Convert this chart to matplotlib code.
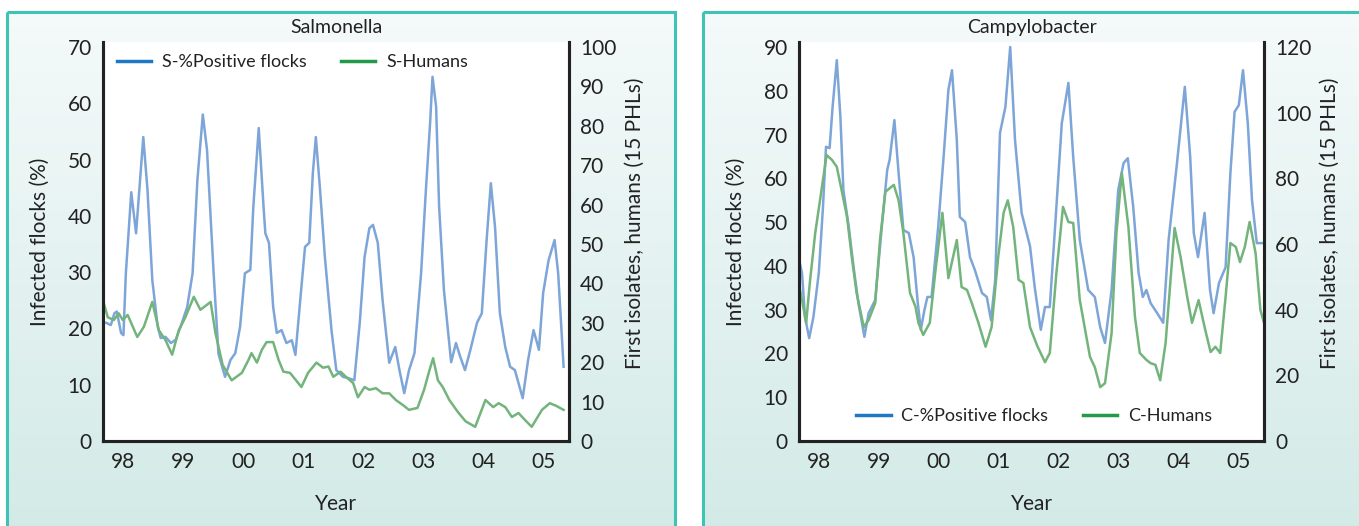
import numpy as np
import matplotlib
matplotlib.use('Agg')
import matplotlib.pyplot as plt
from matplotlib.patches import Rectangle
from matplotlib.lines import Line2D

plt.rcParams['font.family'] = ['Lato', 'DejaVu Sans']

# time axis: years as 98 .. 105 (100 = 2000)
year_ticks = [98, 99, 100, 101, 102, 103, 104, 105]
year_labels = ['98', '99', '00', '01', '02', '03', '04', '05']

# Salmonella - % positive flocks (left axis)
s_flock_t = [97.72, 97.80, 97.86, 97.90, 97.97, 98.01, 98.05, 98.14, 98.22, 98.34,
             98.41, 98.49, 98.58, 98.63, 98.71, 98.80, 98.88, 98.96, 99.07, 99.16,
             99.24, 99.33, 99.40, 99.51, 99.59, 99.70, 99.79, 99.87, 99.95, 100.03,
             100.12, 100.17, 100.26, 100.34, 100.37, 100.43, 100.50, 100.56, 100.64, 100.72,
             100.81, 100.87, 100.95, 101.03, 101.10, 101.16, 101.21, 101.28, 101.36, 101.47,
             101.55, 101.66, 101.74, 101.85, 101.94, 102.02, 102.10, 102.16, 102.24, 102.32,
             102.43, 102.53, 102.60, 102.68, 102.76, 102.85, 102.96, 103.04, 103.11, 103.15,
             103.21, 103.26, 103.34, 103.46, 103.54, 103.61, 103.69, 103.78, 103.89, 103.97,
             104.05, 104.12, 104.19, 104.27, 104.36, 104.44, 104.52, 104.65, 104.74, 104.83,
             104.92, 104.99, 105.08, 105.18, 105.24, 105.33]
s_flock_v = [21.0, 20.6, 22.7, 23.0, 19.2, 18.8, 29.8, 44.2, 36.9, 54.0,
             44.6, 28.6, 20.3, 18.3, 18.5, 17.4, 18.0, 20.3, 23.8, 29.8,
             46.4, 58.0, 51.7, 29.8, 15.5, 11.4, 14.4, 15.6, 20.3, 29.8,
             30.4, 41.6, 55.6, 41.6, 36.9, 35.2, 23.8, 19.2, 19.7, 17.4,
             17.9, 15.3, 25.0, 34.5, 35.2, 47.6, 54.0, 44.6, 32.7, 19.7,
             12.6, 11.4, 11.2, 10.8, 21.0, 32.7, 37.8, 38.4, 35.2, 25.0,
             13.9, 16.7, 12.6, 8.5, 12.6, 15.6, 29.8, 44.6, 56.5, 64.7,
             59.4, 41.6, 26.8, 14.0, 17.4, 15.0, 12.6, 16.2, 21.0, 22.7,
             35.7, 45.8, 38.0, 22.7, 16.7, 13.2, 12.6, 7.6, 14.4, 19.7,
             16.2, 26.3, 32.1, 35.7, 29.8, 13.2]

# Salmonella - human first isolates (right axis)
s_human_t = [97.69, 97.75, 97.85, 97.93, 98.00, 98.08, 98.24, 98.35, 98.49, 98.60,
             98.71, 98.82, 98.93, 99.04, 99.18, 99.29, 99.46, 99.54, 99.66, 99.81,
             99.98, 100.09, 100.14, 100.23, 100.31, 100.39, 100.50, 100.59, 100.67, 100.78,
             100.97, 101.08, 101.22, 101.33, 101.42, 101.50, 101.62, 101.71, 101.83, 101.91,
             102.02, 102.10, 102.21, 102.32, 102.43, 102.54, 102.66, 102.76, 102.90, 103.01,
             103.10, 103.16, 103.24, 103.32, 103.43, 103.57, 103.70, 103.86, 104.03, 104.16,
             104.25, 104.36, 104.47, 104.58, 104.69, 104.80, 104.97, 105.10, 105.21, 105.33]
s_human_v = [34.6, 31.4, 30.7, 32.4, 30.7, 32.0, 26.4, 29.0, 35.3, 28.1,
             25.6, 21.9, 28.1, 31.4, 36.6, 33.3, 35.3, 27.4, 19.3, 15.4,
             17.3, 20.6, 22.3, 19.9, 23.1, 25.1, 25.1, 20.6, 17.6, 17.3,
             13.7, 17.3, 19.9, 18.6, 18.9, 16.3, 17.6, 16.3, 14.7, 11.1,
             13.7, 13.0, 13.4, 12.1, 12.1, 10.4, 9.1, 7.9, 8.4, 13.0,
             18.0, 21.0, 15.4, 13.7, 10.4, 7.4, 5.0, 3.6, 10.4, 8.6,
             9.6, 8.6, 6.1, 7.1, 5.3, 3.6, 7.9, 9.6, 8.9, 7.9]

# Campylobacter - % positive flocks (left axis)
c_flock_t = [97.66, 97.72, 97.77, 97.84, 97.91, 98.00, 98.07, 98.12, 98.18, 98.23,
             98.30, 98.36, 98.41, 98.50, 98.58, 98.66, 98.76, 98.83, 98.94, 99.05,
             99.14, 99.18, 99.26, 99.33, 99.41, 99.50, 99.58, 99.65, 99.70, 99.76,
             99.81, 99.88, 99.99, 100.08, 100.16, 100.22, 100.30, 100.35, 100.44, 100.52,
             100.60, 100.72, 100.80, 100.87, 100.94, 101.02, 101.11, 101.19, 101.27, 101.38,
             101.52, 101.60, 101.70, 101.77, 101.85, 101.96, 102.05, 102.16, 102.24, 102.35,
             102.49, 102.60, 102.69, 102.77, 102.88, 102.99, 103.08, 103.15, 103.24, 103.33,
             103.40, 103.46, 103.53, 103.64, 103.74, 103.83, 103.97, 104.10, 104.19, 104.25,
             104.32, 104.43, 104.52, 104.58, 104.67, 104.78, 104.86, 104.93, 105.00, 105.07,
             105.15, 105.22, 105.30, 105.40]
c_flock_v = [42.1, 38.4, 28.3, 23.5, 28.3, 38.4, 53.5, 67.2, 66.9, 76.3,
             87.0, 74.0, 57.3, 48.9, 39.7, 31.5, 23.8, 29.2, 32.2, 48.9,
             61.9, 64.2, 73.3, 61.2, 48.2, 47.5, 42.0, 31.5, 25.4, 29.9,
             32.9, 32.9, 48.9, 64.9, 80.2, 84.7, 68.8, 51.2, 50.0, 42.0,
             39.1, 33.8, 32.9, 27.6, 36.8, 70.4, 76.3, 90.0, 68.8, 52.1,
             44.5, 35.0, 25.4, 30.6, 30.6, 53.5, 72.6, 81.8, 64.9, 45.9,
             34.5, 32.9, 26.0, 22.4, 34.5, 57.3, 63.5, 64.6, 53.5, 38.4,
             32.9, 34.5, 31.5, 29.2, 27.0, 45.9, 63.5, 80.9, 64.9, 47.5,
             42.0, 52.1, 34.5, 29.2, 36.1, 39.7, 61.2, 75.2, 76.7, 84.7,
             72.6, 55.0, 45.2, 45.2]

# Campylobacter - human first isolates (right axis)
c_human_t = [97.63, 97.72, 97.79, 97.85, 97.94, 98.02, 98.13, 98.22, 98.30, 98.38,
             98.47, 98.55, 98.63, 98.75, 98.83, 98.94, 99.02, 99.11, 99.25, 99.33,
             99.41, 99.52, 99.61, 99.66, 99.74, 99.85, 99.94, 100.06, 100.16, 100.30,
             100.38, 100.47, 100.55, 100.66, 100.78, 100.88, 100.99, 101.08, 101.15, 101.24,
             101.33, 101.41, 101.52, 101.64, 101.77, 101.85, 101.96, 102.07, 102.16, 102.24,
             102.35, 102.52, 102.60, 102.69, 102.77, 102.88, 102.96, 103.05, 103.16, 103.27,
             103.35, 103.46, 103.53, 103.61, 103.69, 103.78, 103.93, 104.03, 104.14, 104.22,
             104.33, 104.44, 104.53, 104.61, 104.69, 104.78, 104.86, 104.95, 105.02, 105.10,
             105.18, 105.28, 105.36, 105.42]
c_human_v = [51.2, 42.9, 36.0, 48.1, 63.3, 73.3, 87.1, 85.6, 83.5, 76.4,
             68.3, 56.0, 45.1, 34.7, 36.8, 42.0, 61.2, 75.9, 78.0, 73.3,
             63.3, 45.1, 41.0, 36.0, 32.3, 36.0, 51.2, 69.5, 49.6, 61.2,
             46.9, 46.0, 42.0, 36.0, 28.7, 34.7, 56.0, 69.5, 73.3, 65.2,
             49.1, 48.1, 34.7, 29.0, 24.0, 26.8, 51.2, 71.3, 66.7, 66.4,
             42.9, 25.6, 22.5, 16.4, 17.6, 32.9, 63.3, 81.6, 65.2, 37.7,
             26.8, 24.7, 23.7, 23.2, 18.5, 29.9, 64.9, 56.0, 43.9, 36.0,
             42.9, 33.9, 27.1, 28.7, 26.8, 43.9, 60.3, 59.1, 54.5, 59.1,
             66.7, 57.2, 39.9, 36.0]

W, H = 1359, 526
fig = plt.figure(figsize=(W / 100, H / 100), dpi=100)

# panel backgrounds (gradient boxes with teal border), in pixel coords
bg = fig.add_axes([0, 0, 1, 1])
bg.axis('off')
grad = np.linspace(0, 1, 256).reshape(-1, 1)
top_c = np.array([245, 250, 250]) / 255.0
bot_c = np.array([210, 234, 231]) / 255.0
grad_img = (top_c + grad[:, :, None] * (bot_c - top_c)).reshape(256, 1, 3)
for x0, x1 in [(7, 675), (703, 1380)]:
    bg.imshow(grad_img, extent=[x0, x1, 540, 12], aspect='auto', zorder=0)
    bg.add_patch(Rectangle((x0, 12), x1 - x0, 540, fill=False,
                           edgecolor='#3ec4b5', linewidth=2.2, zorder=1))
bg.set_xlim(0, W)
bg.set_ylim(H, 0)

blue_line = '#7da5d8'
green_line = '#72b47c'
blue_leg = '#1f78c4'
green_leg = '#23994a'
ink = '#222222'


def make_panel(left_px, right_px, title, ymax_l, ystep_l, ymax_r, ystep_r,
               flock_t, flock_v, human_t, human_v, leg_names, leg_pos):
    top_px, bot_px = 42, 441
    ax = fig.add_axes([left_px / W, 1 - bot_px / H,
                       (right_px - left_px) / W, (bot_px - top_px) / H])
    ax2 = ax.twinx()
    ax.set_facecolor('white')

    ax.plot(flock_t, flock_v, color=blue_line, linewidth=1.8, zorder=3,
            solid_joinstyle='round')
    ax2.plot(human_t, human_v, color=green_line, linewidth=1.8, zorder=2,
             solid_joinstyle='round')

    # top of axis box sits a little above the top tick
    ax.set_xlim(97.67, 105.42)
    ax.set_ylim(0, ymax_l * (bot_px - top_px) / (bot_px - 47))
    ax2.set_ylim(0, ymax_r * (bot_px - top_px) / (bot_px - 47))
    ax.set_yticks(np.arange(0, ymax_l + 1, ystep_l))
    ax2.set_yticks(np.arange(0, ymax_r + 1, ystep_r))
    ax.set_xticks(year_ticks)
    ax.set_xticklabels(year_labels)

    for a in (ax, ax2):
        a.spines['top'].set_visible(False)
        for s in ('left', 'right', 'bottom'):
            a.spines[s].set_linewidth(2.2)
            a.spines[s].set_color(ink)
        a.tick_params(length=0, labelsize=15, colors=ink)
    ax.tick_params(axis='y', pad=8)
    ax.tick_params(axis='x', pad=8)
    ax2.tick_params(axis='y', pad=8)

    ax.set_ylabel('Infected flocks (%)', fontsize=15, color=ink)
    ax.yaxis.set_label_coords(-0.115, 0.5)
    ax2.set_ylabel('First isolates, humans (15 PHLs)', fontsize=15, color=ink)
    ax2.yaxis.set_label_coords(1.12, 0.545)
    ax.set_xlabel('Year', fontsize=15, color=ink)
    ax.xaxis.set_label_coords(0.5, -0.133)

    ax.text(0.5, 1.037, title, transform=ax.transAxes, ha='center', va='center',
            fontsize=14, color=ink)

    handles = [Line2D([], [], color=blue_leg, linewidth=2.5),
               Line2D([], [], color=green_leg, linewidth=2.5)]
    leg = ax2.legend(handles, leg_names, loc='center left', bbox_to_anchor=leg_pos,
                     ncol=2, frameon=False, fontsize=13, handlelength=1.9,
                     handletextpad=0.6, columnspacing=1.9, borderpad=0,
                     borderaxespad=0)
    for t in leg.get_texts():
        t.set_color(ink)
    return ax


make_panel(103, 569, 'Salmonella', 70, 10, 100, 10,
           s_flock_t, s_flock_v, s_human_t, s_human_v,
           ['S-%Positive flocks', 'S-Humans'], (0.03, 0.95))
make_panel(799, 1264, 'Campylobacter', 90, 10, 120, 20,
           c_flock_t, c_flock_v, c_human_t, c_human_v,
           ['C-%Positive flocks', 'C-Humans'], (0.123, 0.063))

fig.savefig('out.png', dpi=100)
